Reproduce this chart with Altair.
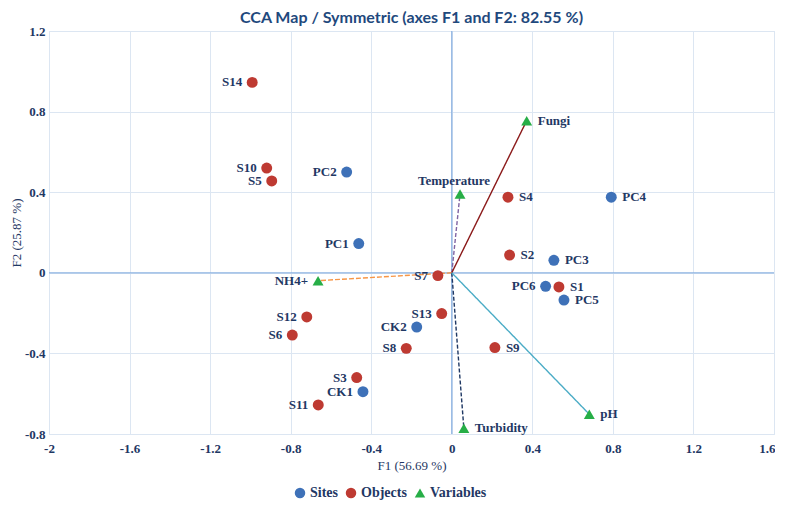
import altair as alt
import pandas as pd

# ---- data ----
site_names = ["PC1", "PC2", "PC3", "PC4", "PC5", "PC6", "CK1", "CK2"]
site_f1 = [-0.462, -0.522, 0.507, 0.792, 0.557, 0.466, -0.441, -0.174]
site_f2 = [0.145, 0.500, 0.062, 0.375, -0.135, -0.067, -0.590, -0.269]

obj_names = ["S1", "S2", "S3", "S4", "S5", "S6", "S7", "S8", "S9", "S10", "S11", "S12", "S13", "S14"]
obj_f1 = [0.532, 0.287, -0.472, 0.279, -0.894, -0.792, -0.069, -0.226, 0.214, -0.919, -0.663, -0.720, -0.050, -0.991]
obj_f2 = [-0.070, 0.088, -0.520, 0.375, 0.456, -0.309, -0.014, -0.375, -0.371, 0.520, -0.656, -0.219, -0.202, 0.945]

var_names = ["Temperature", "Fungi", "NH4+", "Turbidity", "pH"]
var_f1 = [0.041, 0.372, -0.664, 0.060, 0.683]
var_f2 = [0.391, 0.755, -0.039, -0.772, -0.702]

groups = ["Sites", "Objects", "Variables"]
x_ticks = [-2, -1.6, -1.2, -0.8, -0.4, 0, 0.4, 0.8, 1.2, 1.6]
y_ticks = [-0.8, -0.4, 0, 0.4, 0.8, 1.2]

# ---- styles ----
NAVY = "#1F3864"
group_colors = ["#3E71B8", "#BE3A32", "#27AE47"]
group_shapes = ["circle", "circle", "triangle-up"]
line_colors = ["#8064A2", "#8B1A1A", "#F79646", "#1F3864", "#4BACC6"]
line_dashes = [[4, 2], [1, 0], [5, 2], [4, 2], [1, 0]]
left_labels = {"S14", "S10", "S5", "PC2", "PC1", "NH4+", "S7", "PC6", "S12", "S6",
               "S13", "CK2", "S8", "S3", "CK1", "S11"}
top_labels = {"Temperature"}

pts = pd.DataFrame({
    "name": site_names + obj_names + var_names,
    "F1": site_f1 + obj_f1 + var_f1,
    "F2": site_f2 + obj_f2 + var_f2,
    "group": ["Sites"] * len(site_names) + ["Objects"] * len(obj_names) + ["Variables"] * len(var_names),
})
pts["side"] = ["left" if n in left_labels else ("top" if n in top_labels else "right") for n in pts["name"]]
vars_df = pd.DataFrame({"name": var_names, "F1": var_f1, "F2": var_f2})

xscale = alt.Scale(domain=[-2, 1.6], nice=False, zero=False)
yscale = alt.Scale(domain=[-0.8, 1.2], nice=False, zero=False)
xaxis = alt.Axis(values=x_ticks, title="F1 (56.69 %)", labelExpr="'' + round(datum.value*10)/10",
                 labelPadding=8, titlePadding=4,
                 labelAlign={"condition": {"test": "datum.value > 1.5", "value": "right"}, "value": "center"},
                 labelOffset={"condition": {"test": "datum.value > 1.5", "value": 1}, "value": 0})
yaxis = alt.Axis(values=y_ticks, title="F2 (25.87 %)", labelExpr="'' + round(datum.value*10)/10",
                 labelPadding=4, titlePadding=1)

legend = alt.Legend(title=None, orient="none", legendX=244, legendY=455, direction="horizontal",
                    labelFont="Liberation Serif", labelFontWeight="bold",
                    labelFontSize=14, labelColor=NAVY, symbolSize=110,
                    columnPadding=6, labelOffset=3)

base = alt.Chart(pts)

zero_h = alt.Chart(pd.DataFrame({"v": [0]})).mark_rule(color="#8DB3E2", strokeWidth=1.3).encode(
    y=alt.Y("v:Q", scale=yscale, axis=yaxis))
zero_v = alt.Chart(pd.DataFrame({"v": [0]})).mark_rule(color="#8DB3E2", strokeWidth=1.3).encode(
    x=alt.X("v:Q", scale=xscale, axis=xaxis))

vectors = alt.Chart(vars_df).transform_calculate(o="0").mark_rule(strokeWidth=1.4).encode(
    x=alt.X("o:Q", scale=xscale, axis=xaxis),
    y=alt.Y("o:Q", scale=yscale, axis=yaxis),
    x2="F1:Q",
    y2="F2:Q",
    stroke=alt.Stroke("name:N", scale=alt.Scale(domain=var_names, range=line_colors), legend=None),
    strokeDash=alt.StrokeDash("name:N", scale=alt.Scale(domain=var_names, range=line_dashes), legend=None),
)

points = base.mark_point(filled=True, opacity=1, size=120).encode(
    x=alt.X("F1:Q", scale=xscale, axis=xaxis),
    y=alt.Y("F2:Q", scale=yscale, axis=yaxis),
    color=alt.Color("group:N", scale=alt.Scale(domain=groups, range=group_colors), legend=legend),
    shape=alt.Shape("group:N", scale=alt.Scale(domain=groups, range=group_shapes), legend=legend),
)

text_style = dict(font="Liberation Serif", fontWeight="bold", fontSize=13, color=NAVY, baseline="middle")
lab_left = base.transform_filter("datum.side == 'left'").mark_text(align="right", dx=-10, **text_style).encode(
    x=alt.X("F1:Q", scale=xscale), y=alt.Y("F2:Q", scale=yscale), text="name:N")
lab_right = base.transform_filter("datum.side == 'right'").mark_text(align="left", dx=11, **text_style).encode(
    x=alt.X("F1:Q", scale=xscale), y=alt.Y("F2:Q", scale=yscale), text="name:N")
lab_top = base.transform_filter("datum.side == 'top'").mark_text(align="center", dx=-6, dy=-13, **text_style).encode(
    x=alt.X("F1:Q", scale=xscale), y=alt.Y("F2:Q", scale=yscale), text="name:N")

chart = alt.layer(zero_h, zero_v, vectors, points, lab_left, lab_right, lab_top).properties(
    width=725, height=403, padding={"left": 2, "right": 0, "top": 2, "bottom": 0},
    title=alt.TitleParams("CCA Map / Symmetric (axes F1 and F2: 82.55 %)", font="Lato", fontSize=16,
                          fontWeight="bold", color="#1F497D", anchor="middle", offset=-1),
).configure_view(stroke="#D5E0EE", strokeWidth=1).configure_axis(
    grid=True, gridColor="#DCE6F2", gridWidth=1, domain=False, ticks=False,
    labelFont="Liberation Serif", labelFontWeight="bold", labelFontSize=13, labelColor=NAVY,
    titleFont="Liberation Serif", titleFontSize=13, titleFontWeight="normal", titleColor=NAVY,
)

chart.save("out.html", embed_options={"renderer": "svg", "actions": False})
